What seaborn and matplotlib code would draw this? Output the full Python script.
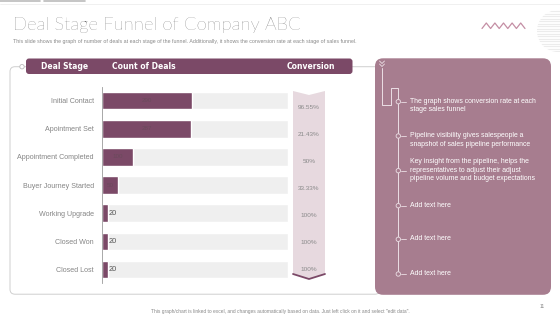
import numpy as np
import pandas as pd
import matplotlib
matplotlib.use("Agg")
import matplotlib.pyplot as plt
import seaborn as sns
from matplotlib.patches import FancyBboxPatch, Polygon, Circle

# ---------------- data ----------------
stages = ["Initial Contact", "Apointment Set", "Appointment Completed",
          "Buyer Journey Started", "Working Upgrade", "Closed Won", "Closed Lost"]
counts = [290, 287, 100, 50, 20, 20, 20]
conversion = ["96.55%", "21.43%", "50%", "33.33%", "100%", "100%", "100%"]
scale_max = 600
header_labels = ["Deal Stage", "Count of Deals", "Conversion"]
notes = [
    "The graph shows conversion rate at each\nstage sales funnel",
    "Pipeline visibility gives salespeople a\nsnapshot of sales pipeline performance",
    "Key insight from the pipeline, helps the\nrepresentatives to adjust their adjust\npipeline volume and budget expectations",
    "Add text here",
    "Add text here",
    "Add text here",
]
title = "Deal Stage Funnel of Company ABC"
subtitle = ("This slide shows the graph of number of deals at each stage of the funnel. "
            "Additionally, it shows the conversion rate at each stage of sales funnel.")
footer = ('This graph/chart is linked to excel, and changes automatically based on data. '
          'Just left click on it and select "edit data".')
page_no = "11"

# ---------------- style ----------------
sns.set_theme(style="white")
plt.rcParams["font.family"] = ["Liberation Sans", "DejaVu Sans"]

PLUM = "#7b4967"
PANEL = "#a77d8f"
RIBBON = "#e7d9df"
GREYBAR = "#efefef"

W, H = 560, 315
fig = plt.figure(figsize=(W / 100, H / 100), dpi=100)
fig.patch.set_facecolor("white")

# overlay in pixel coordinates
bg = fig.add_axes([0, 0, 1, 1])
bg.set_xlim(0, W)
bg.set_ylim(H, 0)
bg.axis("off")

# top decorative lines
bg.plot([0, 40], [1, 1], color="#bbbbbb", lw=1.2)
bg.plot([44, 85], [1, 1], color="#bbbbbb", lw=1.2)
bg.plot([0, W], [3.5, 3.5], color="#eeeeee", lw=0.6)

# striped circle top-right
circ = Circle((558, 31), 21, facecolor="white", edgecolor="none")
bg.add_patch(circ)
for yy in np.arange(11, 52, 2.5):
    ln, = bg.plot([530, 560], [yy, yy], color="#ececec", lw=0.8)
    ln.set_clip_path(circ)

# zigzag
zx = np.linspace(482, 525, 11)
zy = np.where(np.arange(11) % 2 == 0, 28.5, 23)
bg.plot(zx, zy, color="#c48ea4", lw=0.9)

# title & subtitle
bg.text(13, 25, title, fontsize=13.3, color="#484848", va="center", ha="left",
        family=["Lato", "DejaVu Sans"], fontweight="light")
bg.text(13, 42, subtitle, fontsize=3.75, color="#888888", va="center", ha="left")

# left frame
frame = FancyBboxPatch((10, 66.7), 370, 227.5, boxstyle="round,pad=0,rounding_size=5",
                       facecolor="none", edgecolor="#cfcfcf", lw=0.7)
bg.add_patch(frame)
bg.add_patch(Circle((22, 66.7), 2.2, facecolor="white", edgecolor="#bbbbbb", lw=0.6, zorder=3))

# header bar
hdr = FancyBboxPatch((26, 58.5), 326.5, 15.5, boxstyle="round,pad=0,rounding_size=3",
                     facecolor=PLUM, edgecolor="none", zorder=4)
bg.add_patch(hdr)
for lab, cx in zip(header_labels, [65, 144, 311]):
    bg.text(cx, 66.5, lab, color="white", fontsize=5.5, fontweight="bold",
            ha="center", va="center", zorder=5, family=["DejaVu Sans"])

# conversion ribbon
rib = Polygon([(293, 91), (309, 95), (325, 91), (325, 274), (309, 279), (293, 274)],
              closed=True, facecolor=RIBBON, edgecolor="none", zorder=2)
bg.add_patch(rib)
bg.plot([293, 309, 325], [274, 279, 274], color=PLUM, lw=1.3, zorder=3)

# right panel
panel = FancyBboxPatch((375, 58.3), 176, 236.5, boxstyle="round,pad=0,rounding_size=8",
                       facecolor=PANEL, edgecolor="none", zorder=4)
bg.add_patch(panel)
lc = "#ecdfe5"
bg.plot([379.5, 382, 384.5], [61, 63.5, 61], color=lc, lw=0.6, zorder=5)
bg.plot([379.5, 382, 384.5], [64, 66.5, 64], color=lc, lw=0.6, zorder=5)
bg.plot([382, 382, 390.5, 390.5, 398.3, 398.3], [68, 105, 105, 88.3, 88.3, 272],
        color=lc, lw=0.7, zorder=5)
note_y = [101.7, 136, 170.7, 205.7, 239.3, 274]
first_line_y = [101.7, 136, 162.3, 205.7, 239.3, 274]
for ny, ty, txt in zip(note_y, first_line_y, notes):
    bg.add_patch(Circle((398.3, ny), 2.2, facecolor=PANEL, edgecolor=lc, lw=0.6, zorder=6))
    bg.plot([401, 406], [ny, ny], color=lc, lw=0.6, zorder=6)
    bg.text(410.5, ty - 4, txt, color="white", fontsize=4.95, ha="left", va="top",
            linespacing=1.3, zorder=6)

# footer
bg.text(280, 311, footer, fontsize=3.55, color="#888888", ha="center", va="center")
bg.text(542, 307, page_no, fontsize=3.6, color="#888888", ha="center", va="center")

# ---------------- bar chart ----------------
ax_left, ax_right = 102, 288
ax_top, ax_bot = 86.7, 283.4
ax = fig.add_axes([ax_left / W, 1 - ax_bot / H, (ax_right - ax_left) / W, (ax_bot - ax_top) / H])
ax.patch.set_alpha(0)

df = pd.DataFrame({"stage": stages, "count": counts, "max": [scale_max] * len(stages)})
sns.barplot(data=df, x="max", y="stage", orient="h", color=GREYBAR, width=0.62,
            saturation=1, ax=ax)
sns.barplot(data=df, x="count", y="stage", orient="h", color=PLUM, width=0.62,
            saturation=1, ax=ax)

ax.set_xlim(0, scale_max)
ax.set_ylim(len(stages) - 0.5, -0.5)
ax.set_xlabel("")
ax.set_ylabel("")
ax.set_xticks([])
for s in ["top", "right", "bottom"]:
    ax.spines[s].set_visible(False)
ax.spines["left"].set_color("#9a9a9a")
ax.spines["left"].set_linewidth(0.6)
ax.tick_params(axis="y", length=0, pad=6, labelsize=5.15, labelcolor="#858585")

for i, c in enumerate(counts):
    if c > 30:
        ax.text(c / 2, i, str(c), color="#6a4a5c", fontsize=4.5, ha="center", va="center")
    else:
        ax.text(c + 2, i, str(c), color="#555555", fontsize=5.3, ha="left", va="center")

# conversion labels (positioned inside the ribbon, spread over its length)
conv_ax = fig.add_axes([ax_left / W, 1 - ax_bot / H, (ax_right - ax_left) / W, (ax_bot - ax_top) / H])
conv_ax.axis("off")
conv_ax.set_ylim(len(stages) - 0.5, -0.5)
conv_ax.set_xlim(0, 1)
n = len(conversion)
for i, lab in enumerate(conversion):
    yv = 0.25 + i * (5.75 / (n - 1))
    conv_ax.text((309 - ax_left) / (ax_right - ax_left), yv, lab, fontsize=4.6,
                 color="#8a8a8a", ha="center", va="center", clip_on=False)

fig.savefig("out.png", dpi=100, facecolor="white")
